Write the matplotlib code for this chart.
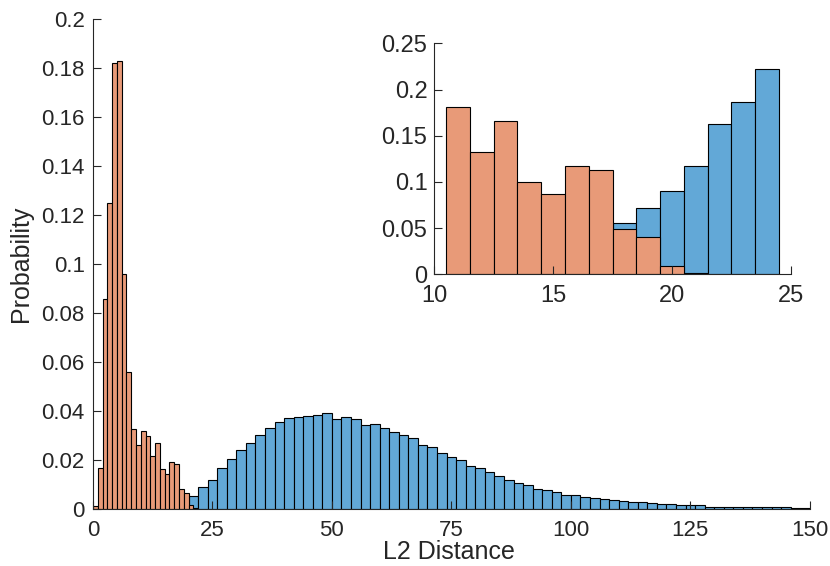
import matplotlib
matplotlib.use("Agg")
import matplotlib.pyplot as plt
from matplotlib.ticker import FuncFormatter
import numpy as np

plt.rcParams.update({
    "font.family": ["Liberation Sans", "DejaVu Sans"],
    "font.size": 16,
    "axes.edgecolor": "#262626",
    "axes.linewidth": 0.8,
    "xtick.color": "#262626",
    "ytick.color": "#262626",
    "xtick.direction": "in",
    "ytick.direction": "in",
})

C_BLUE = "#62A8D7"
C_ORANGE = "#E89A78"
TXT = "#262626"

# ---- main histogram (orange: width 1 from 0, blue: width 2 from 18) ----
orange_start, orange_width = 0, 1
orange_main = [0.001, 0.0168, 0.0855, 0.125, 0.182, 0.183, 0.0958, 0.056,
               0.0325, 0.0258, 0.0317, 0.0296, 0.0217, 0.027, 0.0164, 0.0141,
               0.019, 0.0184, 0.0079, 0.0065, 0.0014, 0.0001]

blue_start, blue_width = 18, 2
blue_main = [0.003, 0.0053, 0.0088, 0.0116, 0.0165, 0.0202, 0.0240, 0.0270,
             0.0302, 0.0329, 0.0354, 0.0370, 0.0373, 0.0379, 0.0384, 0.0390,
             0.0367, 0.0373, 0.0366,
             0.0343, 0.0345, 0.0329, 0.0313, 0.0300, 0.0289, 0.0261, 0.0250,
             0.0228, 0.0209, 0.0198, 0.0176, 0.0165, 0.0149, 0.0133, 0.0119,
             0.0104,
             0.0098, 0.0079, 0.0075, 0.0070, 0.0056, 0.0057, 0.0047, 0.0043,
             0.0038, 0.0034, 0.0033, 0.0026, 0.0026, 0.0022, 0.0020,
             0.0019, 0.0015, 0.0014, 0.0014, 0.0008, 0.0008, 0.0008, 0.0008,
             0.0006, 0.0006, 0.0005, 0.0005, 0.0005, 0.0003, 0.0003]

# ---- inset (width 1 bins starting at 10.5) ----
inset_orange_start = 10.5
inset_orange = [0.1814, 0.1327, 0.1659, 0.0999, 0.0866, 0.1169, 0.1132,
                0.0487, 0.0407, 0.0093, 0.0011]
inset_blue_start = 17.5
inset_blue = [0.0552, 0.0714, 0.0905, 0.1169, 0.163, 0.1868, 0.2219]

main_xticks = [0, 25, 50, 75, 100, 125, 150]
main_yticks = np.arange(0, 0.2001, 0.02)
inset_xticks = [10, 15, 20, 25]
inset_yticks = [0, 0.05, 0.1, 0.15, 0.2, 0.25]


def edges(start, width, n):
    return start + width * np.arange(n)


def style(ax, size, xpad, ypad):
    ax.spines["top"].set_visible(False)
    ax.spines["right"].set_visible(False)
    ax.tick_params(length=5.5, width=0.8, labelcolor=TXT, labelsize=size)
    ax.tick_params(axis="x", pad=xpad)
    ax.tick_params(axis="y", pad=ypad)
    ax.yaxis.set_major_formatter(FuncFormatter(lambda v, p: f"{round(v, 4):g}"))


fig = plt.figure(figsize=(8.3, 5.66), dpi=100)
ax = fig.add_axes([0.112, 0.1013, 0.8637, 0.8651])
ax.bar(edges(blue_start, blue_width, len(blue_main)), blue_main, width=blue_width,
       align="edge", color=C_BLUE, edgecolor="k", linewidth=0.8)
ax.bar(edges(orange_start, orange_width, len(orange_main)), orange_main, width=orange_width,
       align="edge", color=C_ORANGE, edgecolor="k", linewidth=0.8)
ax.set_xlim(0, 150)
ax.set_ylim(0, 0.2)
ax.set_xticks(main_xticks)
ax.set_yticks(main_yticks)
style(ax, 16, 8, 6)
ax.set_xlabel("L2 Distance", fontsize=18, color=TXT)
ax.set_ylabel("Probability", fontsize=18, color=TXT)
ax.xaxis.set_label_coords(0.497, -0.064)
ax.yaxis.set_label_coords(-0.083, 0.5)

ins = fig.add_axes([0.5233, 0.5154, 0.4294, 0.408])
ins.bar(edges(inset_blue_start, 1, len(inset_blue)), inset_blue, width=1,
        align="edge", color=C_BLUE, edgecolor="k", linewidth=0.8)
ins.bar(edges(inset_orange_start, 1, len(inset_orange)), inset_orange, width=1,
        align="edge", color=C_ORANGE, edgecolor="k", linewidth=0.8)
ins.set_xlim(10, 25)
ins.set_ylim(0, 0.25)
ins.set_xticks(inset_xticks)
ins.set_yticks(inset_yticks)
style(ins, 17, 8, 5)

fig.savefig("out.png", dpi=100)
